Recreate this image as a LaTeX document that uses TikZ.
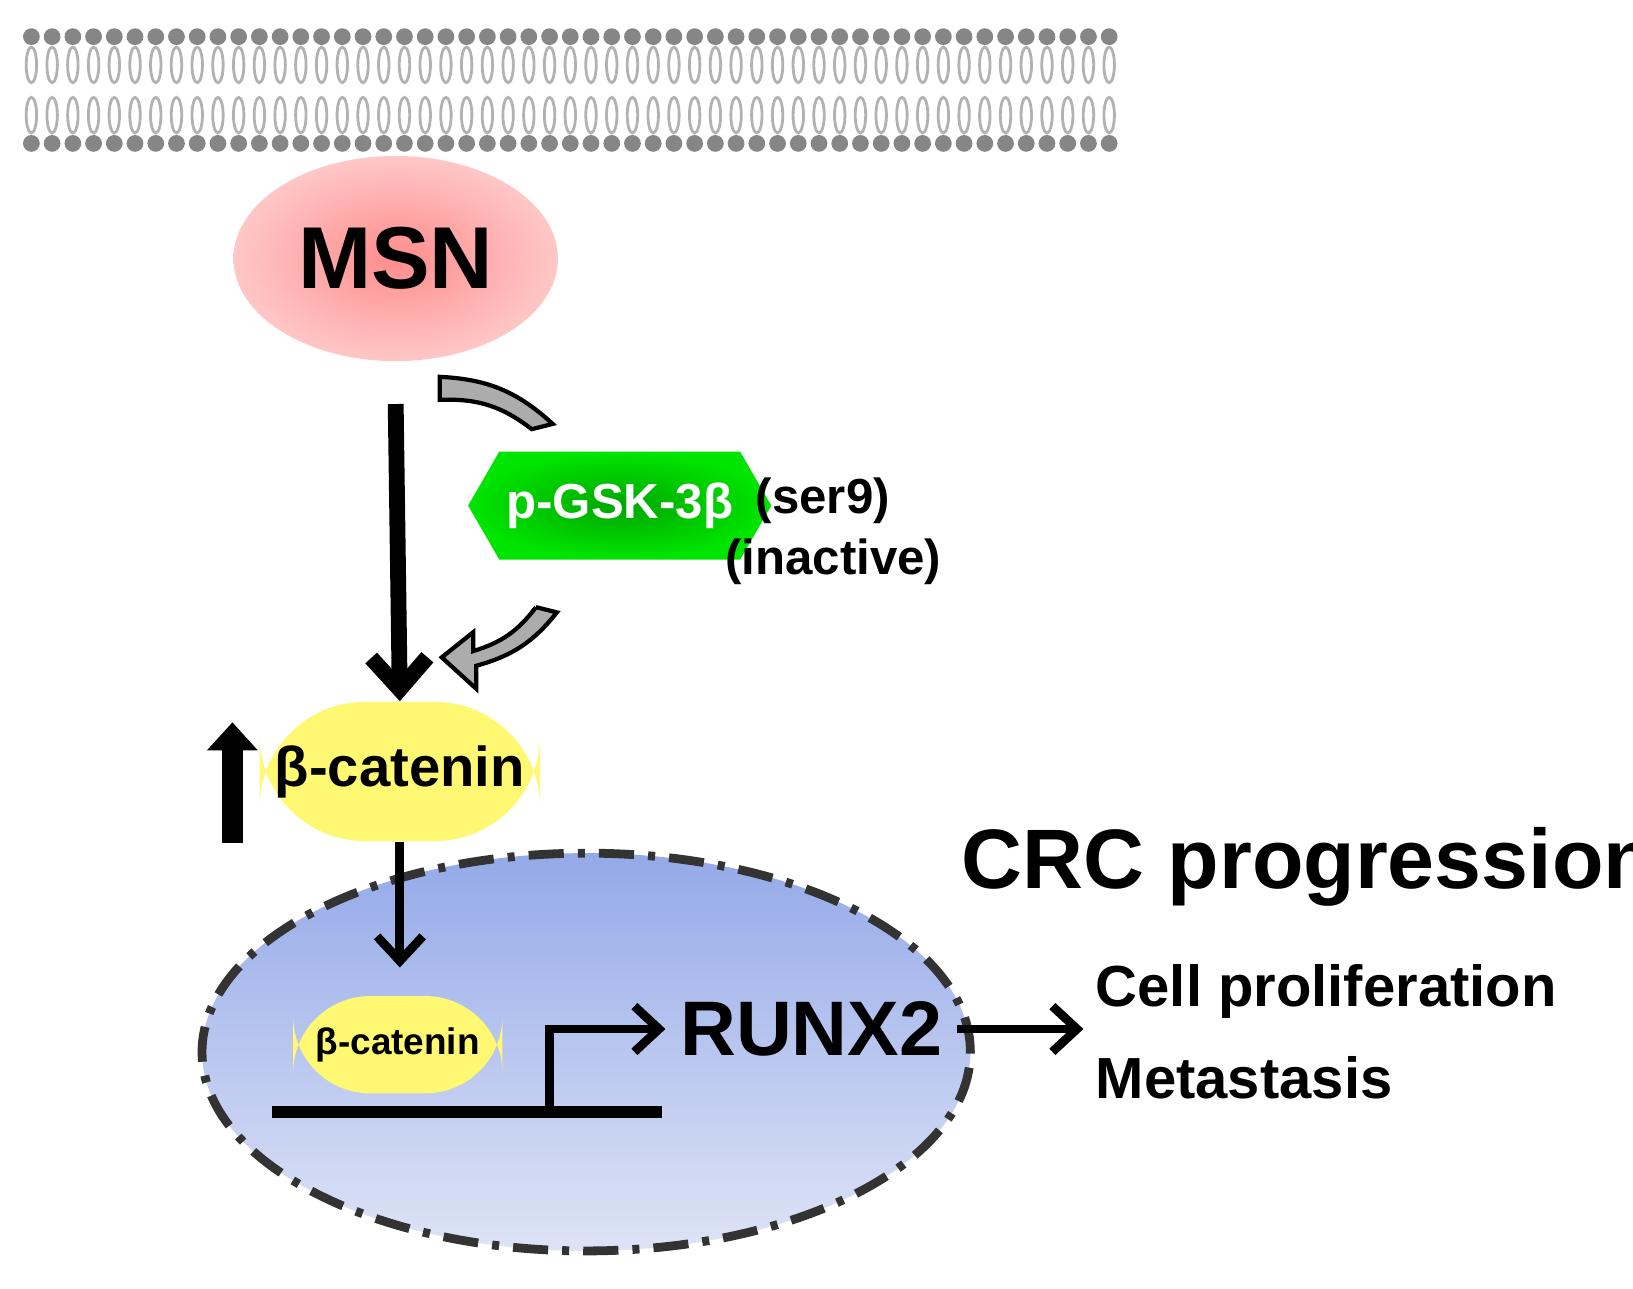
\documentclass[tikz,border=0pt]{standalone}
\usepackage{fontspec}
\setmainfont{Liberation Sans}
\usetikzlibrary{arrows.meta, positioning, shapes.symbols, shapes.geometric}
\definecolor{nuctop}{RGB}{148,169,232}
\definecolor{nucbot}{RGB}{222,228,246}

\begin{document}
\begin{tikzpicture} [x=0.01047cm, y=-0.01047cm, font=\bfseries,
	lipid/.style = {fill=gray!95!white, draw=none},
	tail/.style = {draw=gray!60, line width=0.8pt},
	mainarrow/.style = {line width=4.5pt, -{Straight Barb[length=9pt, width=16pt, line width=4.5pt]}},
	thinarrow/.style = {line width=2.5pt, -{Straight Barb[length=7pt, width=13pt, line width=2.5pt]}}]
			% Fixed frame with the reference margins
			\useasboundingbox (0,0) rectangle (1560,1231);
			% Membrane
			\foreach \i in {0,...,52} {
				\fill [lipid] (30+\i*19.8,35) circle (8);
				\fill [lipid] (30+\i*19.8,137) circle (8);
				\draw [tail] (30+\i*19.8,62) ellipse (5 and 17);
				\draw [tail] (30+\i*19.8,110) ellipse (5 and 17);
			}
			% Nucleus
			\node (nuc) [ellipse, minimum width=734*0.01047cm, minimum height=380*0.01047cm, draw=gray!40!black, line width=2.5pt,
			dash pattern=on 10pt off 4pt on 2pt off 4pt, top color=nuctop, bottom color=nucbot] at (560,1005) {};
			% MSN
			\node (msn) [ellipse, minimum width=310*0.01047cm, minimum height=196*0.01047cm, inner color=red!45, outer color=red!22,
			font=\bfseries\fontsize{25}{25}\selectfont] at (378,247) {MSN};
			% p-GSK-3beta
			\node (gsk) [signal, signal to=west and east, signal pointer angle=120, minimum width=252*0.01047cm, minimum height=103*0.01047cm,
			inner color=green!65!black, outer color=green!90!black, text=white, font=\bfseries\fontsize{14}{14}\selectfont,
			inner sep=2pt] at (592,483) {p-GSK-3β};
			\node (ser) [font=\bfseries\fontsize{14}{14}\selectfont] at (786,478) {(ser9)};
			\node (inact) [font=\bfseries\fontsize{14}{14}\selectfont] at (796,537) {(inactive)};
			% beta-catenin (cytoplasm)
			\node (bcat) [rounded corners=30pt, fill=yellow!55, minimum width=268*0.01047cm, minimum height=133*0.01047cm,
			font=\bfseries\fontsize{16}{16}\selectfont] at (382,737) {β-catenin};
			\coordinate (up0) at (222,805);
			\coordinate (up1) at (222,690);
			\draw [line width=6pt, -{Triangle[length=8pt, width=14pt]}] (up0) -- (up1);
			% beta-catenin (nucleus)
			\node (bcatn) [rounded corners=22pt, fill=yellow!55, minimum width=200*0.01047cm, minimum height=93*0.01047cm,
			font=\bfseries\fontsize{10.5}{10.5}\selectfont] at (380,998) {β-catenin};
			% Gene and RUNX2
			\coordinate (dna0) at (260,1062);
			\coordinate (dna1) at (632,1062);
			\coordinate (tss) at (525,1062);
			\node (runx) [font=\bfseries\fontsize{22}{22}\selectfont, inner sep=4pt] at (775,983) {RUNX2};
			\node (crc) [font=\bfseries\fontsize{24}{24}\selectfont] at (1250,828) {CRC progression};
			\node (prolif) [anchor=west, font=\bfseries\fontsize{16.5}{16.5}\selectfont] at (1035,947) {Cell proliferation};
			\node (meta) [anchor=west, font=\bfseries\fontsize{16.5}{16.5}\selectfont] at (1035,1030) {Metastasis};
			% Gray curved arrows
			\draw [draw=black, line width=1.2pt, fill=gray!65] (420,360) to[bend left=20] (528,405)
				-- (508,410) to[bend right=20] (420,382) -- cycle;
			\draw [draw=black, line width=1.2pt, fill=gray!65] (512,580) -- (532,585) to[bend left=18] (455,636)
				-- (455,658) -- (422,628) -- (452,604) -- (452,622) to[bend right=18] (512,580);
			% Connectors
			\draw [mainarrow] ([yshift=-12pt]msn.south) -- (bcat.north);
			\draw [thinarrow] (bcat.south) -- ++(0,120);
			\draw [line width=3.5pt] (dna0) -- (dna1);
			\draw [thinarrow] (tss) |- (runx.west);
			\draw [thinarrow] (runx.east) -- (prolif.west |- runx.east);
\end{tikzpicture}
\end{document}
